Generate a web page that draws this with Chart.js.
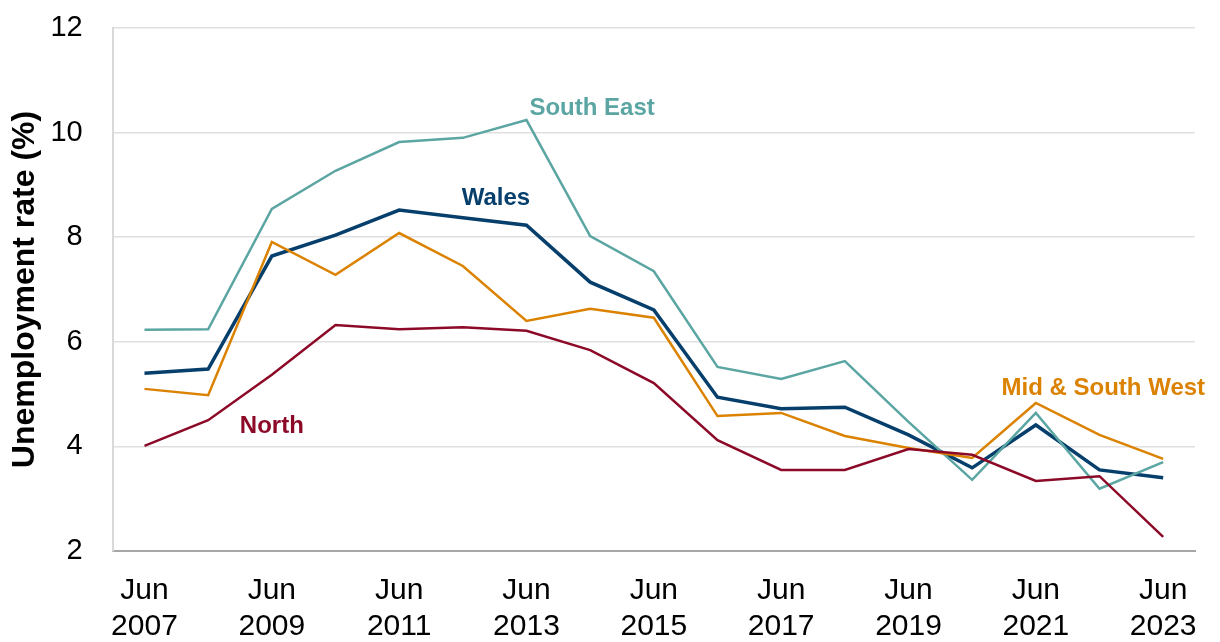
<!DOCTYPE html>
<html>
<head>
<meta charset="utf-8">
<script src="https://cdn.jsdelivr.net/npm/chart.js@4"></script>
<style>
  html, body { margin: 0; padding: 0; background: #fff; }
  #wrap { width: 1220px; height: 642px; }
</style>
</head>
<body>
<div id="wrap"><canvas id="chart"></canvas></div>
<script>
// Unemployment rate by region, Jun 2007 - Jun 2023
const years = ['2007','2008','2009','2010','2011','2012','2013','2014','2015','2016','2017','2018','2019','2020','2021','2022','2023'];
const southEast = [6.23, 6.24, 8.54, 9.27, 9.82, 9.90, 10.24, 8.02, 7.35, 5.52, 5.29, 5.63, 4.47, 3.36, 4.64, 3.19, 3.70];
const wales     = [5.40, 5.48, 7.64, 8.04, 8.52, 8.37, 8.23, 7.14, 6.61, 4.94, 4.72, 4.75, 4.22, 3.59, 4.41, 3.55, 3.40];
const midSouthWest = [5.10, 4.98, 7.91, 7.28, 8.08, 7.45, 6.40, 6.63, 6.46, 4.58, 4.64, 4.20, 3.97, 3.78, 4.83, 4.22, 3.76];
const north     = [4.01, 4.50, 5.37, 6.32, 6.24, 6.28, 6.21, 5.84, 5.21, 4.12, 3.55, 3.55, 3.95, 3.84, 3.34, 3.43, 2.27];
const yTicks = [2, 4, 6, 8, 10, 12];

const COLORS = { se: '#5ba5a2', wales: '#063f6b', msw: '#db8200', north: '#8c0a28' };
const FONT = '"Liberation Sans", Arial, sans-serif';

// series labels placed in data coordinates (category index, value)
const seriesLabels = [
  { text: 'South East', x: 7.03, y: 10.47, color: COLORS.se },
  { text: 'Wales', x: 5.52, y: 8.75, color: COLORS.wales },
  { text: 'Mid & South West', x: 15.06, y: 5.10, color: COLORS.msw },
  { text: 'North', x: 2.0, y: 4.39, color: COLORS.north }
];

const labelPlugin = {
  id: 'seriesLabels',
  afterDatasetsDraw(chart) {
    const { ctx, scales: { x, y } } = chart;
    ctx.save();
    ctx.font = 'bold 24px ' + FONT;
    ctx.textAlign = 'center';
    ctx.textBaseline = 'middle';
    seriesLabels.forEach(l => {
      ctx.fillStyle = l.color;
      ctx.fillText(l.text, x.getPixelForValue(l.x), y.getPixelForValue(l.y));
    });
    ctx.restore();
  }
};

const line = (data, color, w) => ({
  data, borderColor: color, borderWidth: w, pointRadius: 0, tension: 0, fill: false
});

new Chart(document.getElementById('chart'), {
  type: 'line',
  data: {
    labels: years.map(y => ['Jun', y]),
    datasets: [
      line(north, COLORS.north, 2.5),
      line(midSouthWest, COLORS.msw, 2.5),
      line(southEast, COLORS.se, 2.5),
      line(wales, COLORS.wales, 3.5)
    ]
  },
  options: {
    responsive: true,
    maintainAspectRatio: false,
    animation: false,
    layout: { padding: { top: 28, right: 25, left: 6, bottom: -3 } },
    plugins: { legend: { display: false }, tooltip: { enabled: false } },
    scales: {
      x: {
        offset: true,
        grid: { display: false, drawTicks: false },
        border: { color: '#a6a6a6', width: 2 },
        ticks: {
          autoSkip: false, maxRotation: 0, padding: 22, color: '#000',
          font: { size: 30, family: FONT, lineHeight: 1.2 },
          callback: function (v, i) { return i % 2 === 0 ? this.getLabelForValue(v) : ''; }
        },
        // chart.js counts tick padding twice in fit()
        afterFit: s => { s.height -= 22; }
      },
      y: {
        min: 2, max: 12,
        afterBuildTicks: s => { s.ticks = yTicks.map(v => ({ value: v })); },
        afterFit: s => { s.width -= 30; s.paddingTop = 0; s.paddingBottom = 0; },
        grid: { color: '#e0e0e0', lineWidth: 1.5, drawTicks: false },
        border: { color: '#d9d9d9', width: 2 },
        ticks: {
          padding: 30, color: '#000',
          font: { size: 29, family: FONT }
        },
        title: {
          display: true, text: 'Unemployment rate (%)', color: '#000',
          font: { size: 32, weight: 'bold', family: FONT },
          padding: { top: 0, bottom: 6 }
        }
      }
    }
  },
  plugins: [labelPlugin]
});
</script>
</body>
</html>
